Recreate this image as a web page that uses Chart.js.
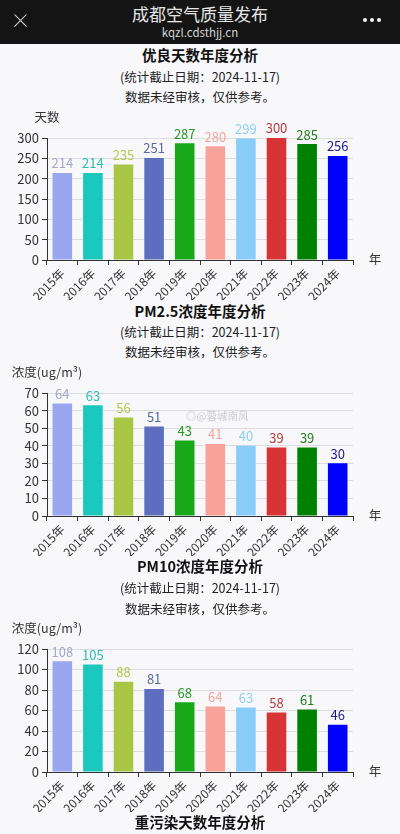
<!DOCTYPE html>
<html>
<head>
<meta charset="utf-8">
<script src="https://cdn.jsdelivr.net/npm/chart.js@4.4.1/dist/chart.umd.min.js"></script>
<style>
  html, body { margin:0; padding:0; }
  body { width:400px; height:834px; overflow:hidden; background:#f8f8fb; position:relative;
         font-family:"Noto Sans CJK SC","Noto Sans",sans-serif; }
  .hdr { position:absolute; left:0; top:0; width:400px; height:44px; background:#141414; }
  .hdr .t1 { position:absolute; left:0; width:400px; top:3px; text-align:center; color:#e6e6e6; font-size:17px; line-height:22px; }
  .hdr .t2 { position:absolute; left:0; width:400px; top:24px; text-align:center; color:#d2d2d2; font-size:11.5px; line-height:16px; }
  .xicon { position:absolute; left:12px; top:20px; width:17px; height:1.2px; background:#e0e0e0; }
  .dot { position:absolute; top:18px; width:4px; height:4px; border-radius:2px; background:#f2f2f2; }
  .tt { position:absolute; left:0; width:400px; text-align:center; line-height:20px; color:#111; }
  .b { font-weight:bold; font-size:14.5px; }
  .s { font-size:12.5px; color:#222; }
  canvas { position:absolute; left:0; }
  .wm { position:absolute; left:186px; top:408px; font-size:10.5px; color:rgba(150,150,150,0.45); }
</style>
</head>
<body>
<div class="hdr">
  <div class="xicon" style="transform:rotate(45deg)"></div>
  <div class="xicon" style="transform:rotate(-45deg)"></div>
  <div class="t1">成都空气质量发布</div>
  <div class="t2">kqzl.cdsthjj.cn</div>
  <div class="dot" style="left:363px"></div>
  <div class="dot" style="left:370px"></div>
  <div class="dot" style="left:377px"></div>
</div>

<div class="tt b" style="top:45px">优良天数年度分析</div>
<div class="tt s" style="top:67px">(统计截止日期：2024-11-17)</div>
<div class="tt s" style="top:87px">数据未经审核，仅供参考。</div>
<canvas id="c1" width="400" height="195" style="top:105px"></canvas>

<div class="tt b" style="top:301px">PM2.5浓度年度分析</div>
<div class="tt s" style="top:322px">(统计截止日期：2024-11-17)</div>
<div class="tt s" style="top:342px">数据未经审核，仅供参考。</div>
<canvas id="c2" width="400" height="196" style="top:360px"></canvas>
<div class="wm">◎@蓉城南风</div>

<div class="tt b" style="top:556px">PM10浓度年度分析</div>
<div class="tt s" style="top:578px">(统计截止日期：2024-11-17)</div>
<div class="tt s" style="top:599px">数据未经审核，仅供参考。</div>
<canvas id="c3" width="400" height="196" style="top:616px"></canvas>

<div class="tt b" style="top:812px">重污染天数年度分析</div>

<script>
// ---- data ----
const years = ['2015年','2016年','2017年','2018年','2019年','2020年','2021年','2022年','2023年','2024年'];
const goodDays = [214, 214, 235, 251, 287, 280, 299, 300, 285, 256];
const pm25 = [64, 63, 56, 51, 43, 41, 40, 39, 39, 30];
const pm10 = [108, 105, 88, 81, 68, 64, 63, 58, 61, 46];
const goodDaysTicks = [0, 50, 100, 150, 200, 250, 300];
const pm25Ticks = [0, 10, 20, 30, 40, 50, 60, 70];
const pm10Ticks = [0, 20, 40, 60, 80, 100, 120];

// ---- styles ----
const barColors = ['#9aa6f0','#1cc7bd','#a8c545','#5d6ec0','#19a819','#f9a29a','#87cdf8','#d63436','#008000','#0000fe'];
const labelColors = ['#a3a9cc','#2dbdb3','#b5c94e','#5a6aa0','#239a23','#f3a59c','#8fd0f0','#bb3a3a','#1f7f1f','#1c1c8c'];
const FONT = '"Noto Sans CJK SC","Noto Sans",sans-serif';

const valueLabels = {
  id: 'valueLabels',
  afterDatasetsDraw(chart) {
    const ctx = chart.ctx;
    const meta = chart.getDatasetMeta(0);
    const data = chart.data.datasets[0].data;
    ctx.save();
    ctx.font = '13px ' + FONT;
    ctx.textAlign = 'center';
    ctx.textBaseline = 'bottom';
    meta.data.forEach((bar, i) => {
      ctx.fillStyle = labelColors[i];
      ctx.fillText(String(data[i]), bar.x, bar.y - 3);
    });
    ctx.restore();
  }
};

const axisNames = {
  id: 'axisNames',
  afterDraw(chart, args, opts) {
    const ctx = chart.ctx;
    const a = chart.chartArea;
    ctx.save();
    ctx.fillStyle = '#333';
    ctx.font = '12.5px ' + FONT;
    ctx.textAlign = 'center';
    ctx.textBaseline = 'middle';
    ctx.fillText(opts.yName, a.left, a.top - 21);
    ctx.fillText(opts.xName, a.right + 22, a.bottom - 1);
    ctx.restore();
  }
};

function makeChart(id, values, ticks, yName) {
  const maxV = ticks[ticks.length - 1];
  const step = ticks[1] - ticks[0];
  return new Chart(document.getElementById(id), {
    type: 'bar',
    data: {
      labels: years,
      datasets: [{ data: values, backgroundColor: barColors, borderWidth: 0,
                   categoryPercentage: 1.0, barPercentage: 0.64 }]
    },
    options: {
      responsive: false,
      animation: false,
      layout: { padding: { top: 33, right: 47, left: 0, bottom: 0 } },
      plugins: {
        legend: { display: false },
        tooltip: { enabled: false },
        axisNames: { yName: yName, xName: '年' }
      },
      scales: {
        x: {
          grid: { offset: true, drawOnChartArea: false, color: '#333', tickLength: 5, tickWidth: 1 },
          border: { color: '#333', width: 1 },
          ticks: { color: '#333', font: { size: 12, family: FONT }, minRotation: 45, maxRotation: 45,
                   autoSkip: false, padding: 1 },
          afterFit(scale) { scale.height = 40; }
        },
        y: {
          min: 0, max: maxV,
          grid: { color: '#dcdcdf', tickColor: '#333', tickLength: 5, lineWidth: 1 },
          border: { color: '#333', width: 1 },
          ticks: { stepSize: step, autoSkip: false, color: '#333', font: { size: 13, family: FONT }, padding: 3 },
          afterFit(scale) { scale.width = 47; }
        }
      }
    },
    plugins: [valueLabels, axisNames]
  });
}

makeChart('c1', goodDays, goodDaysTicks, '天数');
makeChart('c2', pm25, pm25Ticks, '浓度(ug/m³)');
makeChart('c3', pm10, pm10Ticks, '浓度(ug/m³)');
</script>
</body>
</html>
